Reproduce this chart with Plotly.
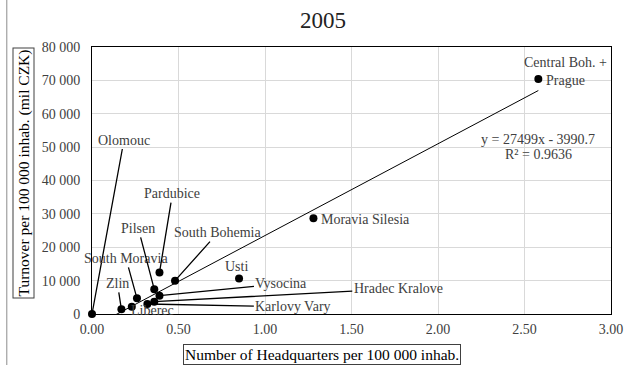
import plotly.graph_objects as go

# Regional headquarters density vs. company turnover, Czech regions, 2005
regions = [
    "Olomouc", "Zlin", "Liberec", "South Moravia", "Karlovy Vary",
    "Hradec Kralove", "Pilsen", "Vysocina", "Pardubice", "South Bohemia",
    "Usti", "Moravia Silesia", "Central Boh. +<br>Prague",
]
hq_per_100k = [0.00, 0.17, 0.23, 0.26, 0.32, 0.36, 0.36, 0.39, 0.39, 0.48, 0.85, 1.28, 2.58]
turnover_per_100k = [0, 1400, 2200, 4700, 3000, 3700, 7400, 5500, 12400, 10000, 10600, 28700, 70400]

# Linear trend reported for the series
trend_slope = 27499
trend_intercept = -3990.7
trend_r2 = 0.9636

x_ticks = [0.0, 0.5, 1.0, 1.5, 2.0, 2.5, 3.0]
y_ticks = [0, 10000, 20000, 30000, 40000, 50000, 60000, 70000, 80000]

FONT = "Liberation Serif"
LABEL_COLOR = "#404040"

# Plot-area geometry (pixels)
W_FIG, H_FIG = 624, 365
M_L, M_R, M_T, M_B = 92, 13, 47, 51
PW = W_FIG - M_L - M_R
PH = H_FIG - M_T - M_B


def paper_x(px):
    return (px - M_L) / PW


def paper_y(py):
    return (H_FIG - M_B - py) / PH


# Label placement: (dx, dy) pixel offset of the label centre from its point,
# and whether a leader line connects them (dy positive = downwards).
label_layout = {
    "Olomouc": (32, -174, True),
    "Zlin": (-4, -26, True),
    "Liberec": (21, 4, False),
    "South Moravia": (-11, -40, True),
    "Karlovy Vary": (146, 3, True),
    "Hradec Kralove": (244, -13, True),
    "Pilsen": (-16, -61, True),
    "Vysocina": (122, -12, True),
    "Pardubice": (13, -79, True),
    "South Bohemia": (43, -48, True),
    "Usti": (-3, -12, False),
    "Moravia Silesia": (52, 1, False),
    "Central Boh. +<br>Prague": (27, -8, False),
}

fig = go.Figure()

# Trendline across the data range
tx = [min(hq_per_100k), max(hq_per_100k)]
ty = [trend_slope * v + trend_intercept for v in tx]
fig.add_trace(go.Scatter(
    x=tx, y=ty, mode="lines",
    line=dict(color="#000000", width=1),
    hoverinfo="skip", showlegend=False,
))

fig.add_trace(go.Scatter(
    x=hq_per_100k, y=turnover_per_100k, mode="markers",
    marker=dict(color="#000000", size=8),
    text=regions, showlegend=False, cliponaxis=False,
))

annotations = []
for name, xv, yv in zip(regions, hq_per_100k, turnover_per_100k):
    dx, dy, leader = label_layout[name]
    common = dict(
        x=xv, y=yv, xref="x", yref="y", text=name,
        font=dict(family=FONT, size=14, color=LABEL_COLOR),
    )
    if leader:
        annotations.append(dict(
            **common, showarrow=True, ax=dx, ay=dy,
            arrowhead=0, arrowwidth=1.3, arrowcolor="#000000",
            standoff=0, startstandoff=0, borderpad=1,
        ))
    else:
        annotations.append(dict(
            **common, showarrow=False, xshift=dx, yshift=-dy,
            xanchor="center", yanchor="middle",
        ))

# Trendline equation and fit
annotations.append(dict(
    x=paper_x(538), y=paper_y(139), xref="paper", yref="paper",
    text=f"y = {trend_slope}x - {abs(trend_intercept)}", showarrow=False,
    font=dict(family=FONT, size=14, color=LABEL_COLOR),
    xanchor="center", yanchor="middle",
))
annotations.append(dict(
    x=paper_x(538), y=paper_y(154), xref="paper", yref="paper",
    text=f"R² = {trend_r2}", showarrow=False,
    font=dict(family=FONT, size=14, color=LABEL_COLOR),
    xanchor="center", yanchor="middle",
))

# Chart title
annotations.append(dict(
    x=paper_x(323), y=paper_y(21), xref="paper", yref="paper",
    text="2005", showarrow=False,
    font=dict(family=FONT, size=23, color="#222222"),
    xanchor="center", yanchor="middle",
))

# Boxed axis titles
annotations.append(dict(
    x=paper_x(322), y=paper_y(354.5), xref="paper", yref="paper",
    text="Number of Headquarters per 100 000 inhab.", showarrow=False,
    font=dict(family=FONT, size=15.5, color="#000000"),
    xanchor="center", yanchor="middle",
    bordercolor="#404040", borderwidth=1, borderpad=1,
))
annotations.append(dict(
    x=paper_x(23), y=paper_y(173.5), xref="paper", yref="paper",
    text="Turnover per 100 000 inhab. (mil CZK)", showarrow=False,
    font=dict(family=FONT, size=15.5, color="#000000"),
    textangle=-90, xanchor="center", yanchor="middle",
    bordercolor="#404040", borderwidth=1, borderpad=1,
))

fig.update_layout(
    width=W_FIG, height=H_FIG,
    margin=dict(l=M_L, r=M_R, t=M_T, b=M_B, autoexpand=False),
    paper_bgcolor="#ffffff", plot_bgcolor="#ffffff",
    separators=". ",
    font=dict(family=FONT, size=14, color=LABEL_COLOR),
    annotations=annotations,
    shapes=[dict(
        type="line", xref="paper", yref="paper",
        x0=paper_x(6.8), x1=paper_x(6.8), y0=paper_y(0), y1=paper_y(H_FIG),
        line=dict(color="#8c8c8c", width=1),
    )],
)

fig.update_xaxes(
    range=[0, 3], tickvals=x_ticks, tickformat=".2f",
    showgrid=True, gridcolor="#d9d9d9", gridwidth=1,
    showline=True, linecolor="#000000", linewidth=1, mirror=True,
    zeroline=False, ticks="", ticklabelstandoff=2,
    tickfont=dict(family=FONT, size=14, color=LABEL_COLOR),
)
fig.update_yaxes(
    range=[0, 80000], tickvals=y_ticks, tickformat=",.0f",
    showgrid=True, gridcolor="#d9d9d9", gridwidth=1,
    showline=True, linecolor="#000000", linewidth=1, mirror=True,
    zeroline=False, ticks="", ticklabelstandoff=8,
    tickfont=dict(family=FONT, size=14, color=LABEL_COLOR),
)

fig.write_html("out.html")
